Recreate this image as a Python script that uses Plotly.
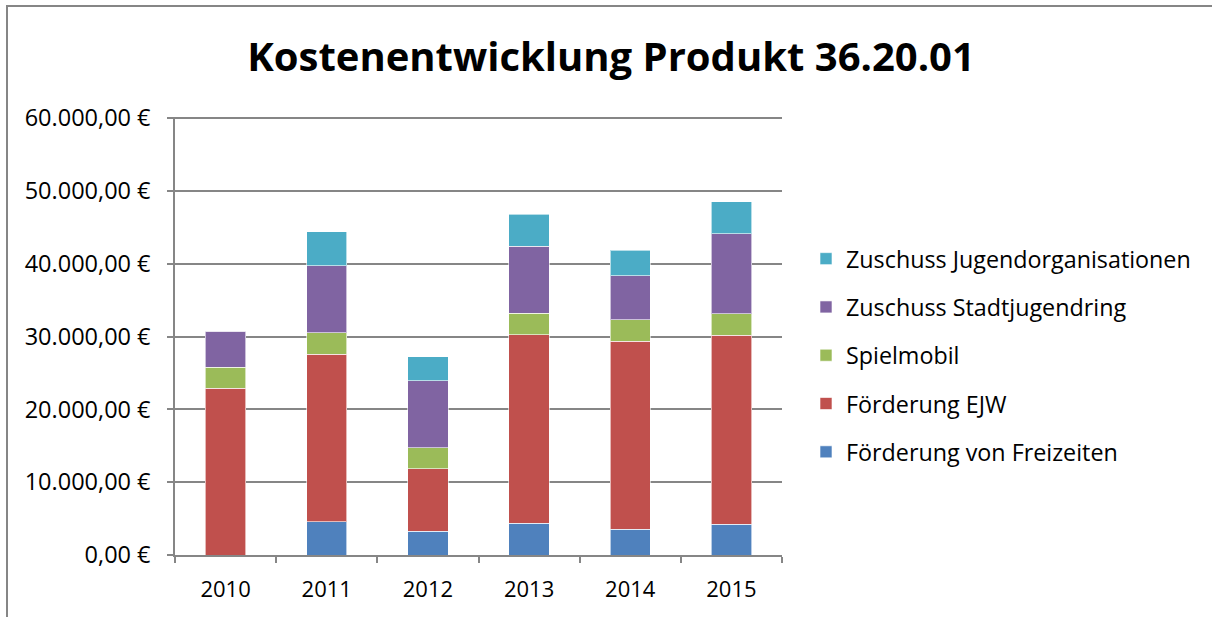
import plotly.graph_objects as go

years = ["2010", "2011", "2012", "2013", "2014", "2015"]
freizeiten = [0, 4600, 3240, 4340, 3520, 4250]
ejw = [22900, 22980, 8590, 25930, 25840, 25930]
spielmobil = [2850, 2930, 2920, 2930, 2970, 2930]
stadtjugendring = [5000, 9220, 9180, 9170, 6030, 11040]
jugendorg = [0, 4660, 3290, 4440, 3520, 4350]

series_names = ["Förderung von Freizeiten", "Förderung EJW", "Spielmobil",
                "Zuschuss Stadtjugendring", "Zuschuss Jugendorganisationen"]
series_values = [freizeiten, ejw, spielmobil, stadtjugendring, jugendorg]
series_colors = ["#4F81BD", "#C0504D", "#9BBB59", "#8064A2", "#4BACC6"]

y_tickvals = [0, 10000, 20000, 30000, 40000, 50000, 60000]
y_ticktext = ["0,00 €", "10.000,00 €", "20.000,00 €", "30.000,00 €",
              "40.000,00 €", "50.000,00 €", "60.000,00 €"]

FONT = "Open Sans"

fig = go.Figure()
n = len(series_names)
for i, (name, vals, col) in enumerate(zip(series_names, series_values, series_colors)):
    fig.add_trace(go.Bar(
        x=years, y=vals, name=name,
        marker=dict(color=col, line=dict(color="rgba(255,255,255,0.6)", width=1)),
        legendgroup=f"g{i}",
        legendrank=n - i,
    ))

W, H = 1212, 617
L, R, T, B = 175, 430, 117, 62
pw = W - L - R
ph = H - T - B

def px_x(px):
    return (px - L) / pw

def px_y(py):
    return (H - B - py) / ph

border_path = "M {:.5f} {:.5f} L {:.5f} {:.5f} L {:.5f} {:.5f}".format(
    px_x(7), px_y(H + 2), px_x(7), px_y(6), px_x(W + 2), px_y(6))

fig.update_layout(
    width=W, height=H,
    margin=dict(l=L, r=R, t=T, b=B),
    barmode="stack",
    bargap=0.6,
    paper_bgcolor="white",
    plot_bgcolor="white",
    font=dict(family=FONT, size=22, color="black"),
    title=dict(
        text="<b>Kostenentwicklung Produkt 36.20.01</b>",
        font=dict(family=FONT, size=40, color="black"),
        x=611 / W, xanchor="center", xref="container",
        y=1 - 57 / H, yanchor="middle", yref="container",
    ),
    legend=dict(
        traceorder="grouped",
        tracegroupgap=15,
        x=px_x(806), xanchor="left",
        y=px_y(237), yanchor="top",
        font=dict(family=FONT, size=23.3, color="black"),
        itemclick=False,
    ),
    showlegend=True,
    xaxis=dict(
        showline=True, linecolor="#868686", linewidth=1.5,
        ticks="outside", tickson="boundaries", ticklen=6, tickcolor="#868686", tickwidth=1.5,
        ticklabelstandoff=14,
        showgrid=False,
        tickfont=dict(family=FONT, size=22, color="black"),
    ),
    yaxis=dict(
        range=[0, 60150],
        tickvals=y_tickvals, ticktext=y_ticktext,
        showline=True, linecolor="#868686", linewidth=1.5,
        ticks="outside", ticklen=6, tickcolor="#868686", tickwidth=1.5,
        ticklabelstandoff=12,
        showgrid=True, gridcolor="#868686", gridwidth=1.5,
        zeroline=False,
        tickfont=dict(family=FONT, size=23.5, color="black"),
    ),
    shapes=[
        dict(type="path", xref="paper", yref="paper", path=border_path,
             line=dict(color="#868686", width=2)),
    ],
)

post = ("document.documentElement.style.overflow='hidden';"
        "document.body.style.overflow='hidden';"
        "document.body.style.margin='0';")

fig.write_html("out.html", config={"displayModeBar": False}, post_script=post)
